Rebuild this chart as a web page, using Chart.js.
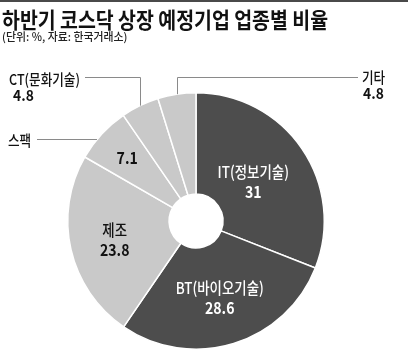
<!DOCTYPE html>
<html>
<head>
<meta charset="utf-8">
<script src="https://cdn.jsdelivr.net/npm/chart.js@4/dist/chart.umd.min.js"></script>
<style>
  html, body { margin: 0; padding: 0; background: #fff; }
  #wrap { position: relative; width: 408px; height: 352px; overflow: hidden; background: #fff; }
  #topline { position: absolute; left: 0; top: 0; width: 408px; height: 2px; background: #4a4a4a; }
  #title { position: absolute; left: 2px; top: 7px; font-family: "Noto Sans CJK KR", sans-serif; font-weight: 700; font-size: 22px; line-height: 22px; color: #111; white-space: nowrap; transform-origin: 0 0; }
  #subtitle { position: absolute; left: 2px; top: 30px; font-family: "Noto Sans CJK KR", sans-serif; font-weight: 500; font-size: 11px; line-height: 13px; color: #222; white-space: nowrap; transform-origin: 0 0; }
  #c { position: absolute; left: 0; top: 0; }
</style>
</head>
<body>
<div id="wrap">
  <div id="topline"></div>
  <canvas id="c" width="408" height="352"></canvas>
  <div id="title">하반기 코스닥 상장 예정기업 업종별 비율</div>
  <div id="subtitle">(단위: %, 자료: 한국거래소)</div>
</div>
<script>
const categories = ['IT(정보기술)', 'BT(바이오기술)', '제조', '스팩', 'CT(문화기술)', '기타'];
const values = [31, 28.6, 23.8, 7.1, 4.8, 4.8];
const valueLabels = ['31', '28.6', '23.8', '7.1', '4.8', '4.8'];

// fit title widths to the reference
function fit(id, w) {
  const el = document.getElementById(id);
  const sw = el.scrollWidth;
  el.style.transform = 'scaleX(' + (w / sw) + ')';
}
fit('title', 326);
fit('subtitle', 126);

const DARK = '#4d4d4d';
const LIGHT = '#c9c9c9';
const colors = [DARK, DARK, LIGHT, LIGHT, LIGHT, LIGHT];

// label styling / layout (not data)
const insideCfg = {
  0: { r: 0.54, name: true, color: '#ffffff' },
  1: { r: 0.63, name: true, color: '#ffffff' },
  2: { r: 0.65, name: true, color: '#111111' },
  3: { r: 0.73, name: false, color: '#111111' }
};

function drawText(ctx, text, x, y, font, align, squeeze) {
  ctx.font = font;
  const w = ctx.measureText(text).width;
  ctx.textAlign = align;
  ctx.fillText(text, x, y, w * squeeze);
}

const labelPlugin = {
  id: 'labels',
  afterDraw(chart) {
    const ctx = chart.ctx;
    const arcs = chart.getDatasetMeta(0).data;
    const NAME_FONT = '500 16px "Noto Sans CJK KR", sans-serif';
    const NUM_FONT = '700 16px "Noto Sans CJK KR", sans-serif';
    const SMALL_NAME = '500 15px "Noto Sans CJK KR", sans-serif';
    const SMALL_NUM = '700 15px "Noto Sans CJK KR", sans-serif';
    ctx.save();
    ctx.textBaseline = 'middle';

    // inside labels
    Object.keys(insideCfg).forEach(k => {
      const i = +k;
      const cfg = insideCfg[i];
      const a = arcs[i].getProps(['x', 'y', 'startAngle', 'endAngle', 'outerRadius'], true);
      const mid = (a.startAngle + a.endAngle) / 2;
      const cx = a.x + Math.cos(mid) * a.outerRadius * cfg.r;
      const cy = a.y + Math.sin(mid) * a.outerRadius * cfg.r;
      ctx.fillStyle = cfg.color;
      if (cfg.name) {
        drawText(ctx, categories[i], cx, cy - 10, NAME_FONT, 'center', 0.84);
        drawText(ctx, valueLabels[i], cx, cy + 10, NUM_FONT, 'center', 0.88);
      } else {
        drawText(ctx, valueLabels[i], cx, cy, NUM_FONT, 'center', 0.88);
      }
    });

    // leader lines
    ctx.strokeStyle = '#8a8a8a';
    ctx.lineWidth = 1;
    function midPoint(i) {
      const a = arcs[i].getProps(['x', 'y', 'startAngle', 'endAngle', 'outerRadius'], true);
      const mid = (a.startAngle + a.endAngle) / 2;
      return { x: a.x + Math.cos(mid) * a.outerRadius, y: a.y + Math.sin(mid) * a.outerRadius, a };
    }
    // CT
    const ct = midPoint(4);
    ctx.beginPath();
    ctx.moveTo(Math.round(ct.x) + 0.5, ct.y);
    ctx.lineTo(Math.round(ct.x) + 0.5, 77.5);
    ctx.lineTo(85, 77.5);
    ctx.stroke();
    // 기타
    const et = midPoint(5);
    ctx.beginPath();
    ctx.moveTo(Math.round(et.x) + 0.5, et.y);
    ctx.lineTo(Math.round(et.x) + 0.5, 77.5);
    ctx.lineTo(358, 77.5);
    ctx.stroke();
    // 스팩
    const sp = midPoint(3).a;
    const ly = 139.5;
    const dx = Math.sqrt(Math.max(sp.outerRadius * sp.outerRadius - (sp.y - ly) * (sp.y - ly), 0));
    ctx.beginPath();
    ctx.moveTo(37, ly);
    ctx.lineTo(sp.x - dx, ly);
    ctx.stroke();

    // outside labels
    ctx.fillStyle = '#111111';
    drawText(ctx, categories[4], 9, 79, SMALL_NAME, 'left', 0.84);
    drawText(ctx, valueLabels[4], 13, 95, SMALL_NUM, 'left', 0.92);
    drawText(ctx, categories[3], 8, 140, SMALL_NAME, 'left', 0.84);
    drawText(ctx, categories[5], 362, 77, SMALL_NAME, 'left', 0.84);
    drawText(ctx, valueLabels[5], 363, 93, SMALL_NUM, 'left', 0.92);
    ctx.restore();
  }
};

new Chart(document.getElementById('c'), {
  type: 'doughnut',
  data: {
    labels: categories,
    datasets: [{
      data: values,
      backgroundColor: colors,
      borderColor: '#ffffff',
      borderWidth: 1.5,
      hoverOffset: 0
    }]
  },
  options: {
    responsive: false,
    animation: false,
    cutout: '21%',
    layout: { padding: { top: 92, bottom: 2, left: 67, right: 83 } },
    plugins: {
      legend: { display: false },
      title: { display: false },
      tooltip: { enabled: false }
    }
  },
  plugins: [labelPlugin]
});
</script>
</body>
</html>
